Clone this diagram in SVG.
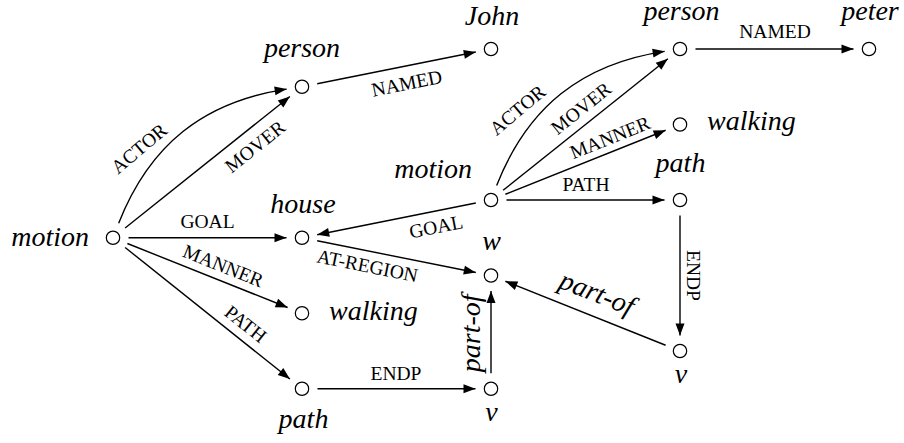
<svg xmlns="http://www.w3.org/2000/svg" width="904" height="443" viewBox="0 0 904 443">
<defs>
<marker id="arr" markerUnits="userSpaceOnUse" markerWidth="13" markerHeight="10" refX="12" refY="4.5" orient="auto" overflow="visible">
<path d="M0,0 L12,4.5 L0,9 Z" fill="#000"/>
</marker>
<style>
.n{fill:#fff;stroke:#000;stroke-width:1.2}
.e{fill:none;stroke:#000;stroke-width:1.4;marker-end:url(#arr)}
.nl{font-family:"Liberation Serif",serif;font-style:italic;font-size:28px;fill:#000}
.el{font-family:"Liberation Serif",serif;font-size:19.5px;fill:#000;text-anchor:middle}
.m{text-anchor:middle}
.s{text-anchor:start}
.r{text-anchor:end}
</style>
</defs>
<rect width="904" height="443" fill="#fff"/>
<g id="connectors">
<path class="e" d="M118.66,223.32 C149.39,144.93 203.40,101.66 286.67,89.07"/>
<line class="e" x1="125.10" y1="228.07" x2="289.90" y2="96.43"/>
<line class="e" x1="128.5" y1="237.75" x2="286.5" y2="237.75"/>
<line class="e" x1="127.39" y1="243.50" x2="287.61" y2="307.50"/>
<line class="e" x1="125.10" y1="247.43" x2="289.90" y2="379.07"/>
<line class="e" x1="317.20" y1="83.71" x2="475.80" y2="52.04"/>
<line class="e" x1="317.20" y1="240.79" x2="475.80" y2="272.46"/>
<line class="e" x1="475.80" y1="203.04" x2="317.20" y2="234.71"/>
<line class="e" x1="317.5" y1="388.75" x2="475.5" y2="388.75"/>
<line class="e" x1="491" y1="373.25" x2="491" y2="291"/>
<line class="e" x1="665.61" y1="345.25" x2="505.39" y2="281.25"/>
<path class="e" d="M496.66,185.57 C527.39,107.18 581.40,63.91 664.67,51.32"/>
<line class="e" x1="503.10" y1="190.32" x2="667.90" y2="58.68"/>
<line class="e" x1="505.39" y1="194.25" x2="665.61" y2="130.25"/>
<line class="e" x1="506.5" y1="200" x2="664.5" y2="200"/>
<line class="e" x1="680" y1="215.5" x2="680" y2="335.5"/>
<line class="e" x1="695.5" y1="49" x2="853.5" y2="49"/>
<text class="el" transform="translate(139,148.5) rotate(-40)" y="6.6">ACTOR</text>
<text class="el" transform="translate(255,146.5) rotate(-38.6)" y="6.6">MOVER</text>
<text class="el" x="207.5" y="228">GOAL</text>
<text class="el" transform="translate(223.3,265.8) rotate(21.8)" y="6.6">MANNER</text>
<text class="el" transform="translate(245.7,324) rotate(38.6)" y="6.6">PATH</text>
<text class="el" transform="translate(406.7,83.3) rotate(-11.3)" y="6.6">NAMED</text>
<text class="el" transform="translate(367.5,265.8) rotate(11.3)" y="6.6">AT-REGION</text>
<text class="el" transform="translate(436,226.7) rotate(-11.3)" y="6.6">GOAL</text>
<text class="el" x="396" y="380">ENDP</text>
<text class="el" transform="translate(517.5,110) rotate(-40)" y="6.6">ACTOR</text>
<text class="el" transform="translate(581,108.3) rotate(-38.6)" y="6.6">MOVER</text>
<text class="el" transform="translate(610,137.5) rotate(-21.8)" y="6.6">MANNER</text>
<text class="el" x="586" y="190.7">PATH</text>
<text class="el" x="775" y="38">NAMED</text>
<text class="el" transform="translate(693.5,275.5) rotate(90)" y="6.6">ENDP</text>
<text class="nl m" transform="translate(474,333.3) rotate(-90)" y="6">part-of</text>
<text class="nl m" transform="translate(596,296) rotate(21.5)" y="6">part-of</text>
</g>
<g id="motion1"><circle class="n" cx="113" cy="237.75" r="6.7"/><text class="nl r" x="89" y="246">motion</text></g>
<g id="person1"><circle class="n" cx="302" cy="86.75" r="6.7"/><text class="nl m" x="302" y="57.3">person</text></g>
<g id="john"><circle class="n" cx="491" cy="49" r="6.7"/><text class="nl m" x="492" y="25">John</text></g>
<g id="house"><circle class="n" cx="302" cy="237.75" r="6.7"/><text class="nl m" x="303" y="213">house</text></g>
<g id="walking1"><circle class="n" cx="302" cy="313.25" r="6.7"/><text class="nl s" x="329" y="319.5">walking</text></g>
<g id="path1"><circle class="n" cx="302" cy="388.75" r="6.7"/><text class="nl m" x="303.5" y="428">path</text></g>
<g id="v1"><circle class="n" cx="491" cy="388.75" r="6.7"/><text class="nl m" x="491.5" y="421">v</text></g>
<g id="region"><circle class="n" cx="491" cy="275.5" r="6.7"/></g>
<g id="motion2"><circle class="n" cx="491" cy="200" r="6.7"/><text class="nl r" x="472" y="178">motion</text><text class="nl m" x="491.5" y="250">w</text></g>
<g id="person2"><circle class="n" cx="680" cy="49" r="6.7"/><text class="nl m" x="681.5" y="19.5">person</text></g>
<g id="peter"><circle class="n" cx="869" cy="49" r="6.7"/><text class="nl m" x="870" y="19.5">peter</text></g>
<g id="walking2"><circle class="n" cx="680" cy="124.5" r="6.7"/><text class="nl s" x="707" y="130">walking</text></g>
<g id="path2"><circle class="n" cx="680" cy="200" r="6.7"/><text class="nl m" x="680.5" y="171.7">path</text></g>
<g id="v2"><circle class="n" cx="680" cy="351" r="6.7"/><text class="nl m" x="681" y="383">v</text></g>
</svg>
